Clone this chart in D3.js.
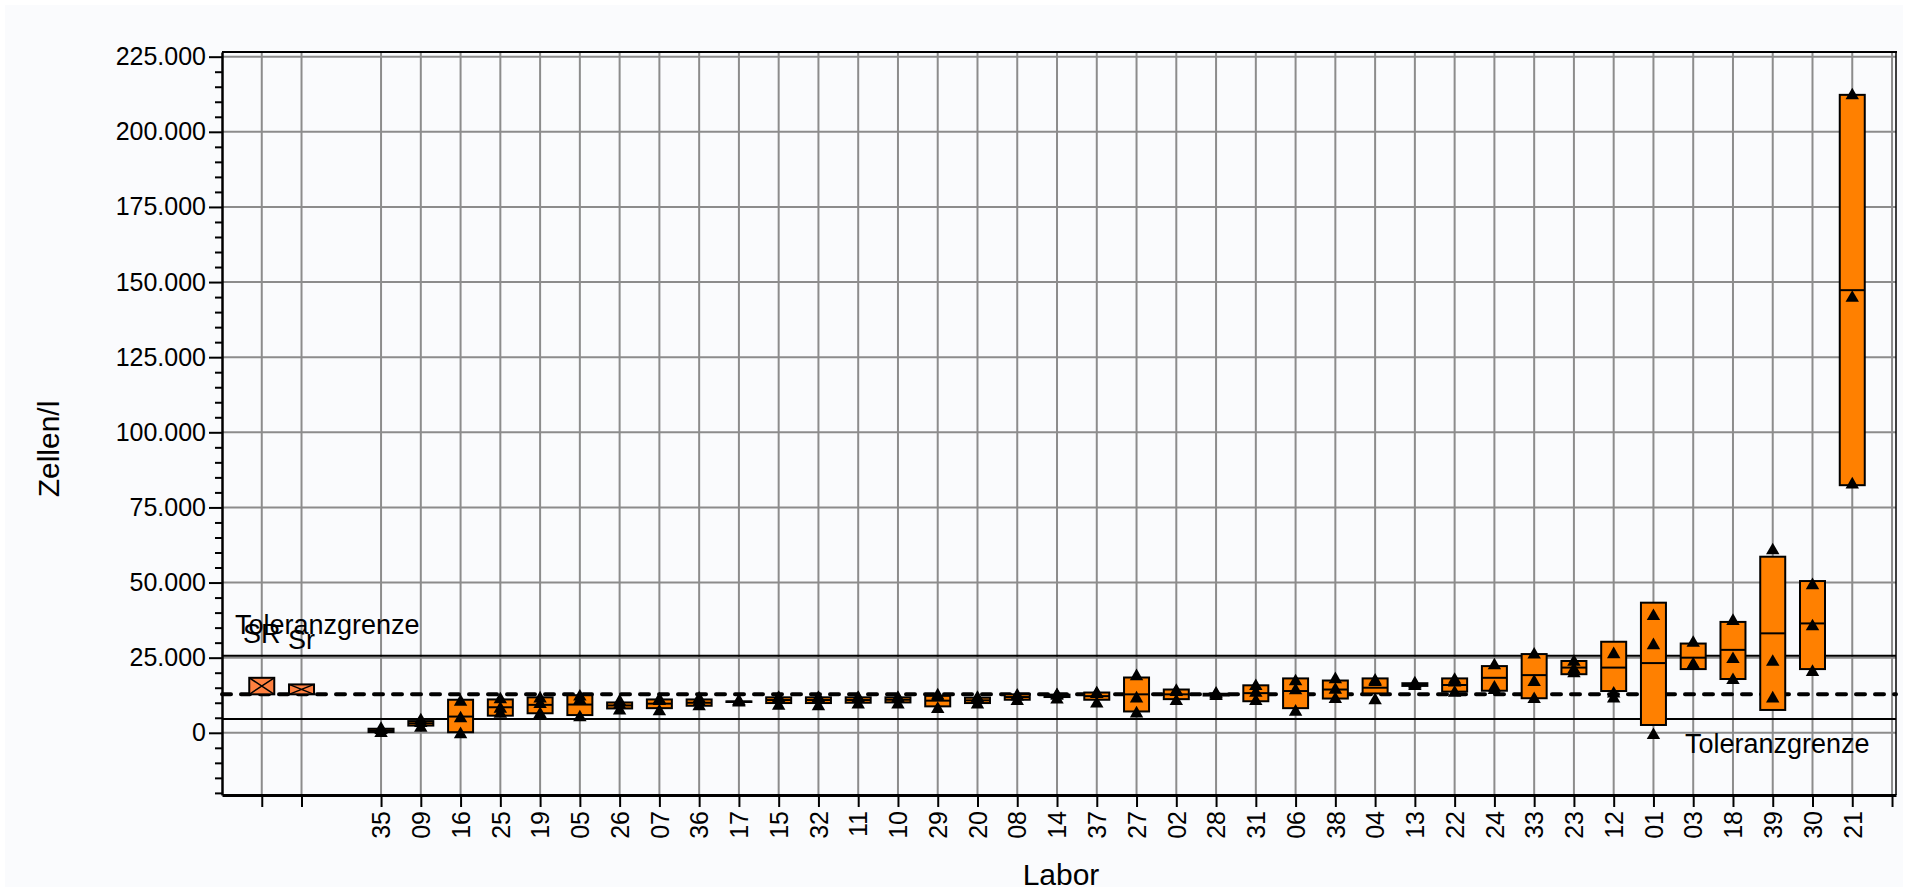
<!DOCTYPE html>
<html>
<head>
<meta charset="utf-8">
<script src="https://cdn.jsdelivr.net/npm/d3@7"></script>
<style>
  body { margin: 0; background: #ffffff; }
  svg { display: block; font-family: "Liberation Sans", Arial, Helvetica, sans-serif; }
</style>
</head>
<body>
<div id="chart"></div>
<script>
// labs in plotted order
const labs = ['35','09','16','25','19','05','26','07','36','17','15','32','11','10','29','20','08','14','37',
  '27','02','28','31','06','38','04','13','22','24','33','23','12','01','03','18','39','30','21'];

// box: mean - sd, mean, mean + sd (cells/l)
const boxLow = [250, 2400, 200, 5700, 6500, 5900, 8100, 8200, 9000, 10250, 9900, 9900, 10000, 10100, 8800, 9900, 11000, 11900, 11000,
  7100, 11200, 12400, 10500, 8200, 11400, 13100, 15600, 13700, 14000, 11500, 19500, 13900, 2600, 21200, 17900, 7600, 21200, 82400];
const boxMean = [800, 3150, 5400, 8500, 9300, 9400, 9100, 9700, 10000, 10350, 10900, 10900, 10900, 11000, 10700, 10800, 11900, 12300, 12200,
  12800, 12800, 12700, 13200, 13900, 14400, 15000, 16000, 15900, 18300, 19200, 21700, 21700, 23200, 25000, 27600, 33100, 36400, 147300];
const boxHigh = [1350, 3900, 11000, 11100, 11800, 12500, 10100, 11100, 11100, 10450, 11800, 11800, 11800, 11800, 12300, 11700, 12800, 12700, 13400,
  18400, 14400, 13000, 15800, 18100, 17400, 18100, 16500, 18100, 22200, 26200, 23900, 30300, 43300, 29700, 36900, 58600, 50500, 212300];

// single results per lab
const points = [
  [-100, 850, 1300], [1600, 3200, 4100], [-500, 4800, 10300], [6300, 8000, 11100], [6200, 9500, 11400],
  [5100, 10800, 12000], [7400, 9300, 10400], [7100, 10500, 11000], [8800, 10300, 11300], [10000, 10300, 10500],
  [9000, 11200, 11600], [8800, 11300, 11600], [9400, 11300, 11600], [9400, 11200, 11600], [7900, 11900, 12400],
  [9400, 11200, 11600], [10500, 12000, 12300], [11000, 12300, 12500], [9700, 12900, 13100],
  [6400, 11400, 18800], [10500, 13500, 13900], [12200, 12700, 13000], [10500, 13300, 15500], [7000, 14100, 17100],
  [11200, 14300, 17800], [10800, 16900, 17300], [15500, 16000, 16400], [13300, 16700, 17600], [14200, 15000, 22400],
  [11200, 16900, 26000], [19800, 21000, 23600], [11400, 13000, 26100], [-800, 29100, 38800], [22400, 22700, 29900],
  [17500, 24500, 37200], [11400, 23600, 60700], [20200, 35400, 49100], [82600, 144700, 212100]
];

// reproducibility / repeatability boxes, drawn up from the assigned value
const precisionLabels = ['SR', 'Sr'];
const precisionValues = [18300, 16100];

const assignedValue = 12800;
const upperLimit = 25600;
const lowerLimit = 4600;

const yTicks = [0, 25000, 50000, 75000, 100000, 125000, 150000, 175000, 200000, 225000];
const yTickLabels = ['0', '25.000', '50.000', '75.000', '100.000', '125.000', '150.000', '175.000', '200.000', '225.000'];

const width = 1908, height = 892;
const plotLeft = 222, plotRight = 1896, plotTop = 52, plotBottom = 795;
const boxW = 25;

const svg = d3.select('#chart').append('svg').
  attr('width', width).
  attr('height', height);

svg.append('rect').
  attr('x', 5).attr('y', 5).
  attr('width', width - 10).attr('height', height - 10).
  attr('fill', '#fafbfd');

// slot index: SR = -3, Sr = -2, labs 0..37, one empty slot at 38
const x = d3.scaleLinear().domain([-4, 38.1]).range([plotLeft, plotRight]);
const y = d3.scaleLinear().domain([-20700, 226560]).range([plotBottom, plotTop]);

const slots = [-3, -2].concat(d3.range(0, 39));

// grid
svg.append('g').selectAll('line').
  data(yTicks).
  enter().append('line').
    attr('x1', plotLeft).attr('x2', plotRight).
    attr('y1', function(d) { return y(d); }).
    attr('y2', function(d) { return y(d); }).
    attr('stroke', '#8c8c8c').attr('stroke-width', 2);

svg.append('g').selectAll('line').
  data(slots).
  enter().append('line').
    attr('x1', function(d) { return x(d); }).
    attr('x2', function(d) { return x(d); }).
    attr('y1', plotTop).attr('y2', plotBottom).
    attr('stroke', '#8c8c8c').attr('stroke-width', 2);

// tolerance limits and assigned value
svg.append('g').selectAll('line').
  data([upperLimit, lowerLimit]).
  enter().append('line').
    attr('x1', plotLeft).attr('x2', plotRight).
    attr('y1', function(d) { return y(d); }).
    attr('y2', function(d) { return y(d); }).
    attr('stroke', '#000').attr('stroke-width', 2);

svg.append('line').
  attr('x1', plotLeft).attr('x2', plotRight).
  attr('y1', y(assignedValue)).attr('y2', y(assignedValue)).
  attr('stroke', '#000').attr('stroke-width', 4).
  attr('stroke-dasharray', '9,10').
  attr('stroke-linecap', 'round');

// SR / Sr boxes with cross
const prec = svg.append('g').selectAll('g').
  data(precisionValues).
  enter().append('g');

prec.append('rect').
  attr('x', function(d, i) { return x(i - 3) - boxW / 2; }).
  attr('y', function(d) { return y(d); }).
  attr('width', boxW).
  attr('height', function(d) { return y(assignedValue) - y(d); }).
  attr('fill', '#ff8040').attr('stroke', '#000').attr('stroke-width', 2);

prec.append('path').
  attr('d', function(d, i) {
    const x0 = x(i - 3) - boxW / 2, x1 = x(i - 3) + boxW / 2, y0 = y(d), y1 = y(assignedValue);
    return 'M' + x0 + ',' + y0 + 'L' + x1 + ',' + y1 + 'M' + x1 + ',' + y0 + 'L' + x0 + ',' + y1;
  }).
  attr('stroke', '#000').attr('stroke-width', 1.5).attr('fill', 'none');

prec.append('text').
  attr('x', function(d, i) { return x(i - 3); }).
  attr('y', function(d) { return y(d) - 35; }).
  attr('text-anchor', 'middle').
  attr('font-size', 27).
  text(function(d, i) { return precisionLabels[i]; });

// lab boxes
const lab = svg.append('g').selectAll('g').
  data(labs).
  enter().append('g');

lab.append('rect').
  attr('x', function(d, i) { return x(i) - boxW / 2; }).
  attr('y', function(d, i) { return y(boxHigh[i]); }).
  attr('width', boxW).
  attr('height', function(d, i) { return y(boxLow[i]) - y(boxHigh[i]); }).
  attr('fill', '#ff8000').attr('stroke', '#000').attr('stroke-width', 2);

lab.append('line').
  attr('x1', function(d, i) { return x(i) - boxW / 2; }).
  attr('x2', function(d, i) { return x(i) + boxW / 2; }).
  attr('y1', function(d, i) { return y(boxMean[i]); }).
  attr('y2', function(d, i) { return y(boxMean[i]); }).
  attr('stroke', '#000').attr('stroke-width', 2);

const tri = d3.symbol().type(d3.symbolTriangle).size(78);

lab.selectAll('path').
  data(function(d, i) { return points[i].map(function(v) { return {i: i, v: v}; }); }).
  enter().append('path').
    attr('d', tri).
    attr('transform', function(p) { return 'translate(' + x(p.i) + ',' + y(p.v) + ')'; }).
    attr('fill', '#000');

// axes
const yAxis = svg.append('g').
  attr('transform', 'translate(' + plotLeft + ',0)').
  call(d3.axisLeft(y).tickValues(yTicks).tickSize(13).tickSizeOuter(0).tickPadding(3).
    tickFormat(function(d, i) { return yTickLabels[i]; }));

yAxis.select('.domain').attr('stroke-width', 2.5);
yAxis.selectAll('.tick line').attr('stroke-width', 2);
yAxis.selectAll('text').attr('font-size', 25).attr('font-family', null).attr('fill', '#000');

svg.append('g').
  attr('transform', 'translate(' + plotLeft + ',0)').
  call(d3.axisLeft(y).tickValues(d3.range(-20000, 226000, 5000).filter(function(v) { return v % 25000 !== 0; })).
    tickSize(7).tickSizeOuter(0).tickFormat('')).
  call(function(g) { g.select('.domain').remove(); }).
  selectAll('.tick line').attr('stroke-width', 2);

const xAxis = svg.append('g').
  attr('transform', 'translate(0,' + plotBottom + ')').
  call(d3.axisBottom(x).tickValues(slots).tickSize(12).tickSizeOuter(0).
    tickFormat(function(d) { return d >= 0 && d < labs.length ? labs[d] : ''; }));

xAxis.select('.domain').attr('stroke-width', 3);
xAxis.selectAll('.tick line').attr('stroke-width', 2);
xAxis.selectAll('text').
  attr('font-size', 25).attr('font-family', null).attr('fill', '#000').
  attr('transform', 'rotate(-90)').
  attr('text-anchor', 'end').
  attr('x', -16).attr('y', 0).attr('dy', '0.35em');

// frame top and right
svg.append('line').attr('x1', plotLeft).attr('x2', plotRight + 1).attr('y1', plotTop).attr('y2', plotTop).
  attr('stroke', '#000').attr('stroke-width', 2);
svg.append('line').attr('x1', plotRight).attr('x2', plotRight).attr('y1', plotTop).attr('y2', plotBottom).
  attr('stroke', '#000').attr('stroke-width', 1.5);

// annotations
svg.append('text').
  attr('x', 235).attr('y', y(upperLimit) - 22).
  attr('font-size', 27).
  text('Toleranzgrenze');

svg.append('text').
  attr('x', 1685).attr('y', y(lowerLimit) + 34).
  attr('font-size', 27).
  text('Toleranzgrenze');

svg.append('text').
  attr('transform', 'translate(48,449) rotate(-90)').
  attr('text-anchor', 'middle').
  attr('dy', '0.35em').
  attr('font-size', 30).
  text('Zellen/l');

svg.append('text').
  attr('x', 1061).attr('y', 885).
  attr('text-anchor', 'middle').
  attr('font-size', 30).
  text('Labor');
</script>
</body>
</html>
